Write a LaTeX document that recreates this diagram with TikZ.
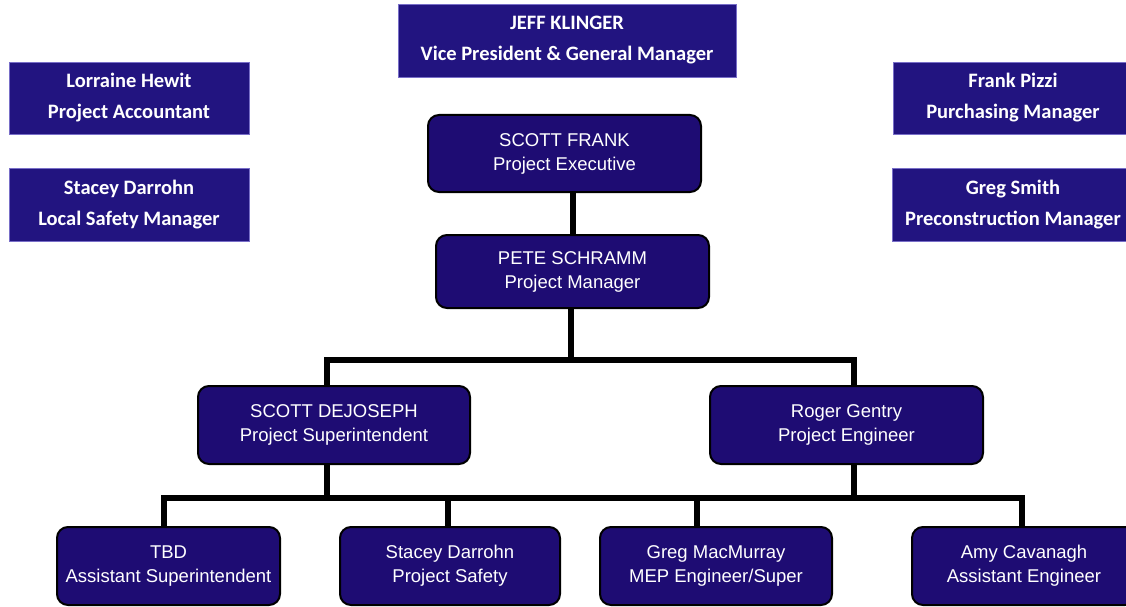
\documentclass[tikz,border=0pt]{standalone}
\usepackage{fontspec}
\setmainfont{Liberation Sans}
\newfontfamily\calibfont{Carlito}
\usepackage{tikz}

\definecolor{headblue}{RGB}{34,20,128}
\definecolor{headedge}{RGB}{120,110,200}
\definecolor{staffblue}{RGB}{30,12,115}

\tikzset{
  headbox/.style={rectangle, fill=headblue, draw=headedge, line width=0.8pt,
    text=white, align=center, inner sep=0pt,
    font=\calibfont\bfseries\fontsize{20.5}{31}\selectfont},
  staffbox/.style={rectangle, rounded corners=11pt, fill=staffblue, draw=black,
    line width=2pt, text=white, align=center, inner sep=0pt,
    minimum height=78pt, font=\fontsize{18.5}{24}\selectfont},
  link/.style={line width=6pt, black}
}

\begin{document}
\begin{tikzpicture}[x=1pt,y=-1pt]
\useasboundingbox (0,0) rectangle (1126,607);
\clip (0,0) rectangle (1126,607);

% top row, no lines
\node [headbox, minimum width=338pt, minimum height=73pt] (vp) at (567,40.5)
  {JEFF KLINGER\\Vice President \& General Manager};
\node [headbox, minimum width=240pt, minimum height=72pt] (acct) at (129,98)
  {Lorraine Hewit\\Project Accountant};
\node [headbox, minimum width=240pt, minimum height=73pt] (lsafe) at (129,204.5)
  {Stacey Darrohn\\Local Safety Manager};
\node [headbox, minimum width=240pt, minimum height=72pt] (purch) at (1013,98)
  {Frank Pizzi\\Purchasing Manager};
\node [headbox, minimum width=242pt, minimum height=73pt] (precon) at (1013,204.5)
  {Greg Smith\\Preconstruction Manager};

% project team
\node [staffbox, minimum width=273pt, minimum height=77pt] (exec) at (564.5,153.5)
  {SCOTT FRANK\\Project Executive};
\node [staffbox, minimum width=273pt, minimum height=73pt] (pm) at (572.5,271.5)
  {PETE SCHRAMM\\Project Manager};
\node [staffbox, minimum width=272pt] (super) at (334,425)
  {SCOTT DEJOSEPH\\Project Superintendent};
\node [staffbox, minimum width=273pt] (eng) at (846.5,425)
  {Roger Gentry\\Project Engineer};

\node [staffbox, minimum width=223pt] (tbd) at (168.5,566)
  {TBD\\Assistant Superintendent};
\node [staffbox, minimum width=220pt] (safety) at (450,566)
  {Stacey Darrohn\\Project Safety};
\node [staffbox, minimum width=232pt] (mep) at (716,566)
  {Greg MacMurray\\MEP Engineer/Super};
\node [staffbox, minimum width=224pt] (asst) at (1024,566)
  {Amy Cavanagh\\Assistant Engineer};

% connectors
\draw [link] (pm.north) -- (pm.north |- exec.south);
\draw [link] ([xshift=-1.5pt]pm.south) -- ++(0,51) coordinate (bus1);
\draw [link] ([xshift=-7pt]super.north) |- (bus1) -| ([xshift=7pt]eng.north);

\draw [link] ([xshift=-7pt]super.south) -- ++(0,33) coordinate (bus2);
\draw [link] ([xshift=7pt]eng.south) -- ++(0,33);
\draw [link] ([xshift=-5pt]tbd.north) |- (bus2) -| ([xshift=-2pt]asst.north);
\draw [link] ([xshift=-2pt]safety.north) -- ([xshift=-2pt]safety.north |- bus2);
\draw [link] ([xshift=-19pt]mep.north) -- ([xshift=-19pt]mep.north |- bus2);

\end{tikzpicture}
\end{document}
